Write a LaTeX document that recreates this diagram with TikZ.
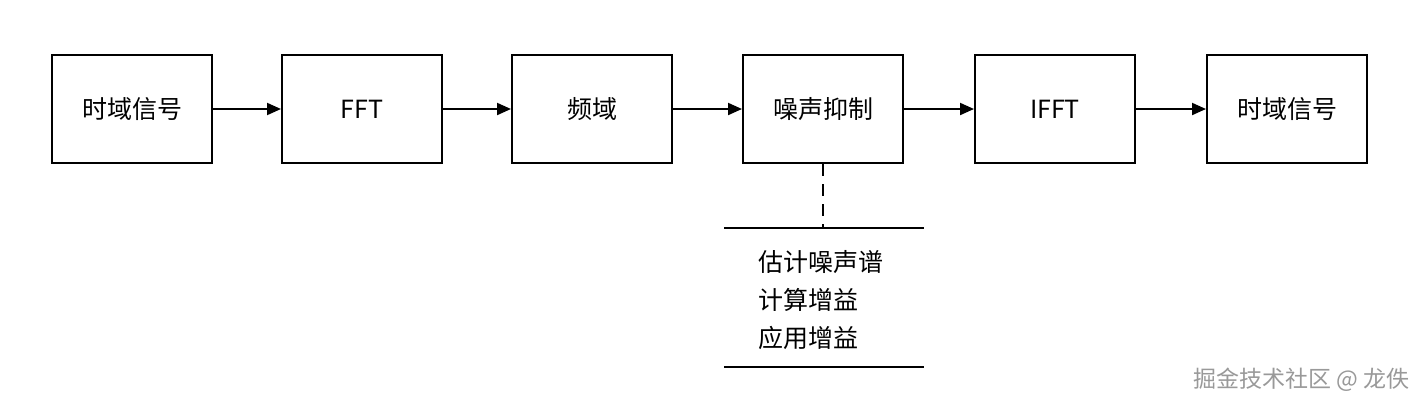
\documentclass[tikz,border=0pt]{standalone}
\usepackage{fontspec}
\setmainfont{Noto Sans CJK SC}
\usetikzlibrary{arrows.meta}
\begin{document}
\begin{tikzpicture}[x=0.5pt,y=-0.5pt,
  box/.style={draw,line width=1pt,minimum width=80pt,minimum height=54pt,inner sep=0pt,font=\fontsize{12.5}{14}\selectfont},
  arr/.style={line width=1pt,-{Triangle[length=7pt,width=6pt]}},
  lbl/.style={anchor=west,inner sep=0pt,font=\fontsize{12.5}{14}\selectfont}]
\useasboundingbox (0,0) rectangle (1424,408);
\node[box] (b1) at (132,109) {时域信号};
\node[box] (b2) at (362,109) {FFT};
\node[box] (b3) at (592,109) {频域};
\node[box] (b4) at (823,109) {噪声抑制};
\node[box] (b5) at (1055,109) {IFFT};
\node[box] (b6) at (1287,109) {时域信号};
\draw[arr] (b1) -- (b2);
\draw[arr] (b2) -- (b3);
\draw[arr] (b3) -- (b4);
\draw[arr] (b4) -- (b5);
\draw[arr] (b5) -- (b6);
\coordinate (t) at (823,228);
\draw[line width=1pt,dash pattern=on 6pt off 4pt] (b4.south) -- (t);
\draw[line width=1pt] (724,228) -- (924,228);
\draw[line width=1pt] (724,367) -- (924,367);
\node[lbl] (l1) at (758,262) {估计噪声谱};
\node[lbl] (l2) at (758,300) {计算增益};
\node[lbl] (l3) at (758,338) {应用增益};
\node[anchor=east,inner sep=0pt,text=gray!80,font=\fontsize{11.5}{13}\selectfont] (wm) at (1410,380) {掘金技术社区 @ 龙佚};
\end{tikzpicture}
\end{document}
